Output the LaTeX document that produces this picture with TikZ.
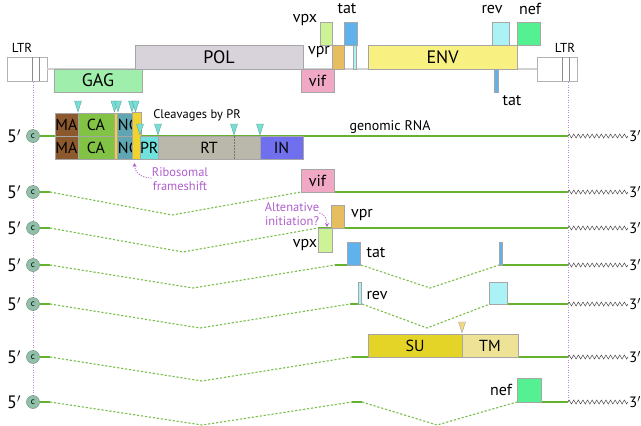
\documentclass[tikz,border=0pt]{standalone}
\usepackage{fontspec}
\setmainfont{PT Sans}
\usetikzlibrary{decorations.pathmorphing,arrows.meta}
\newcommand\fs[1]{\fontsize{#1}{#1}\selectfont}
\definecolor{gagc}{RGB}{160,238,172}
\definecolor{polc}{RGB}{216,210,218}
\definecolor{vifc}{RGB}{240,168,196}
\definecolor{vpxc}{RGB}{206,242,150}
\definecolor{vprc}{RGB}{230,190,95}
\definecolor{tatc}{RGB}{95,178,235}
\definecolor{revc}{RGB}{170,242,245}
\definecolor{envc}{RGB}{248,240,128}
\definecolor{nefc}{RGB}{85,240,145}
\definecolor{mac}{RGB}{140,88,45}
\definecolor{cac}{RGB}{130,195,70}
\definecolor{ncc}{RGB}{95,165,178}
\definecolor{p6c}{RGB}{240,212,45}
\definecolor{prc}{RGB}{112,226,222}
\definecolor{rtc}{RGB}{186,184,170}
\definecolor{inc}{RGB}{112,112,238}
\definecolor{suc}{RGB}{228,212,40}
\definecolor{tmc}{RGB}{238,226,150}
\definecolor{capc}{RGB}{145,192,168}
\definecolor{lineg}{RGB}{100,178,45}
\definecolor{purp}{RGB}{175,95,205}
\definecolor{tric}{RGB}{120,222,212}
\definecolor{vdotc}{RGB}{190,140,210}
\newcommand\gbx[7]{\node[gb,fill=#2,minimum width=#5pt,minimum height=#6pt] (#1) at (#3,#4) {#7};}
\newcommand\tridown[3]{\draw[#1] ({#2-3.5},{#3-11}) -- ({#2+3.5},{#3-11}) -- (#2,#3) -- cycle;}
\begin{document}
\begin{tikzpicture}[x=1pt,y=-1pt,
  gb/.style={draw=black!35,line width=0.5pt,inner sep=0pt,outer sep=0pt,anchor=north west,font=\fs{16}},
  lab/.style={inner sep=0pt,font=\fs{16}},
  small/.style={inner sep=0pt,font=\fs{12.5}},
  plab/.style={inner sep=0pt,font=\fs{12.5},text=purp,align=center},
  fp/.style={inner sep=0pt,font=\fs{18}},
  tp/.style={inner sep=1pt,font=\fs{15},anchor=west},
  capnode/.style={circle,fill=capc,draw=capc!70!black,line width=0.4pt,minimum size=13pt,inner sep=0pt,font=\fs{9}},
  solidg/.style={draw=lineg,line width=1.1pt},
  dashg/.style={draw=lineg!85,line width=1.1pt,dash pattern=on 2.2pt off 1.8pt},
  wavy/.style={draw=black!70,line width=0.5pt,decorate,decoration={zigzag,segment length=4.6pt,amplitude=2pt}},
  vdot/.style={draw=vdotc,line width=0.8pt,dash pattern=on 1pt off 1.5pt},
  tri/.style={fill=tric,draw=tric!70!black,line width=0.3pt},
  tri2/.style={fill=tmc!90!orange,draw=black!40,line width=0.3pt},
  parrow/.style={draw=purp,line width=0.8pt,dash pattern=on 1.2pt off 1.3pt,-{Stealth[length=4pt,width=4pt]},shorten >=1pt}]
\useasboundingbox (0,0) rectangle (641,426);

% ---------------- genome map ----------------
\node[gb,fill=white,draw=black!30,minimum width=40pt,minimum height=24pt] (ltrL) at (7,57) {};
\node[gb,fill=white,draw=black!30,minimum width=40pt,minimum height=24pt] (ltrR) at (537,57) {};
\draw[draw=black!18,line width=2pt] (ltrL.east) -- (ltrR.west);
\draw[black!45,line width=0.5pt] ([xshift=25pt]ltrL.north west) -- ([xshift=25pt]ltrL.south west);
\draw[black!45,line width=0.5pt] ([xshift=32pt]ltrL.north west) -- ([xshift=32pt]ltrL.south west);
\draw[black!45,line width=0.5pt] ([xshift=25pt]ltrR.north west) -- ([xshift=25pt]ltrR.south west);
\draw[black!45,line width=0.5pt] ([xshift=32pt]ltrR.north west) -- ([xshift=32pt]ltrR.south west);
\node[inner sep=0pt,font=\fs{13}] (ltrLl) at (22,48) {LTR};
\node[inner sep=0pt,font=\fs{13}] (ltrRl) at (565,48) {LTR};

\gbx{gag}{gagc}{54}{69}{88}{23}{\fs{18}GAG}
\gbx{pol}{polc}{135}{45}{168}{24}{\fs{18}POL}
\gbx{env}{envc}{368}{45}{149}{24}{\fs{18}ENV}
\gbx{vif}{vifc}{301}{69}{33}{23}{vif}
\gbx{vpxT}{vpxc}{320}{22}{12}{23}{}
\gbx{vprT}{vprc}{332}{45}{12}{24}{}
\gbx{tatT}{tatc}{344}{22}{13}{23}{}
\gbx{revTa}{revc}{353}{45}{3.5}{24}{}
\gbx{revT}{revc}{492}{22}{17}{23}{}
\gbx{nefT}{nefc}{517}{22}{23}{23}{}
\gbx{tatTb}{tatc}{494.5}{69}{3.5}{23}{}
\node[lab] (vpxl) at (305,20) {vpx};
\node[lab] (vprl) at (319,52) {vpr};
\node[lab] (tatl) at (347,9) {tat};
\node[lab] (revl) at (492,9) {rev};
\node[lab] (nefl) at (530,9) {nef};
\node[lab] (tatl2) at (512,101) {tat};

% ---------------- vertical dotted lines ----------------
\coordinate (vl1) at (33,82);
\coordinate (vl2) at (33,402);
\coordinate (vr1) at (568,82);
\coordinate (vr2) at (568,402);
\draw[vdot] (vl1) -- (vl2);
\draw[vdot] (vr1) -- (vr2);

% ---------------- row 1: genomic RNA ----------------
\node[capnode] (c1) at (33,136) {c};
\coordinate (e1) at (568,136);
\draw[solidg] (c1) -- (e1);
\node[tp] (z1) at (628,136) {3$'$};
\draw[wavy] (e1) -- (z1.west);
\node[fp] (f1) at (14,136) {5$'$};

\gbx{ma1}{mac}{55}{113}{23}{23}{MA}
\gbx{ma2}{mac}{55}{136}{23}{23}{MA}
\gbx{ca1}{cac}{78}{113}{36}{23}{CA}
\gbx{ca2}{cac}{78}{136}{36}{23}{CA}
\gbx{nc1}{ncc}{117}{113}{15}{23}{\hspace*{1pt}NC}
\gbx{nc2}{ncc}{117}{136}{15}{23}{\hspace*{1pt}NC}
\gbx{sp1}{p6c}{114}{113}{3}{46}{}
\gbx{p6}{p6c}{132}{112}{9}{47}{}
\gbx{pr}{prc}{140}{136}{18}{23}{PR}
\gbx{rt}{rtc}{158}{136}{102}{23}{RT}
\gbx{in}{inc}{260}{136}{43}{23}{IN}
\draw[black!55,line width=0.5pt,dash pattern=on 1.5pt off 1.5pt] ([xshift=76pt]rt.north west) -- ([xshift=76pt]rt.south west);

\tridown{tri}{78}{112}
\tridown{tri}{114.5}{112}
\tridown{tri}{118}{112}
\tridown{tri}{132}{112}
\tridown{tri}{135.5}{112}
\tridown{tri}{140}{135}
\tridown{tri}{158}{135}
\tridown{tri}{234}{135}
\tridown{tri}{260}{135}

\node[small] (cleav) at (197,115) {Cleavages by PR};
\node[inner sep=0pt,font=\fs{14}] (grna) at (390,127) {genomic RNA};
\node[plab] (ribo) at (180,179) {Ribosomal\\[2pt]frameshift};
\draw[parrow] ([yshift=1pt]ribo.west) .. controls +(-12,0) and +(0,9) .. ([xshift=-2pt,yshift=-3pt]p6.south);

% ---------------- row 2: vif ----------------
\node[capnode] (c2) at (33,192) {c};
\node[fp] (f2) at (14,192) {5$'$};
\coordinate (a2) at (50,192);
\coordinate (v2) at (172,215);
\coordinate (b2) at (301,192);
\coordinate (e2) at (568,192);
\draw[solidg] (c2) -- (a2);
\draw[dashg] (a2) -- (v2) -- (b2);
\draw[solidg] (b2) -- (e2);
\node[tp] (z2) at (628,192) {3$'$};
\draw[wavy] (e2) -- (z2.west);
\gbx{vif2}{vifc}{301}{169}{33}{23}{vif}

% ---------------- row 3: vpr / vpx ----------------
\node[capnode] (c3) at (33,228) {c};
\node[fp] (f3) at (14,228) {5$'$};
\coordinate (a3) at (50,228);
\coordinate (v3) at (183,252);
\coordinate (b3) at (318,228);
\coordinate (e3) at (568,228);
\draw[solidg] (c3) -- (a3);
\draw[dashg] (a3) -- (v3) -- (b3);
\draw[solidg] (b3) -- (e3);
\node[tp] (z3) at (628,228) {3$'$};
\draw[wavy] (e3) -- (z3.west);
\gbx{vpr2}{vprc}{331}{205}{13}{23}{}
\gbx{vpx2}{vpxc}{318}{228}{14}{24}{}
\node[lab] (vprl2) at (362,215) {vpr};
\node[lab] (vpxl2) at (305,245) {vpx};
\node[plab] (alt) at (292,214) {Altenative\\[2pt]initiation?};
\draw[parrow] ([yshift=1pt]alt.east) .. controls +(6,0) and +(0,-6) .. ([xshift=-5pt]vpx2.north east);

% ---------------- row 4: tat ----------------
\node[capnode] (c4) at (33,265) {c};
\node[fp] (f4) at (14,265) {5$'$};
\coordinate (a4) at (50,265);
\coordinate (v4) at (193,288);
\coordinate (b4) at (335,265);
\coordinate (d4) at (361,265);
\coordinate (w4) at (430,288);
\coordinate (g4) at (499,265);
\coordinate (e4) at (568,265);
\draw[solidg] (c4) -- (a4);
\draw[dashg] (a4) -- (v4) -- (b4);
\draw[solidg] (b4) -- (d4);
\draw[dashg] (d4) -- (w4) -- (g4);
\draw[solidg] (g4) -- (e4);
\node[tp] (z4) at (628,265) {3$'$};
\draw[wavy] (e4) -- (z4.west);
\gbx{tat4}{tatc}{347}{242}{13}{23}{}
\gbx{tat4b}{tatc}{499}{242}{3.5}{23}{}
\node[lab] (tatl4) at (376,253) {tat};

% ---------------- row 5: rev ----------------
\node[capnode] (c5) at (33,304) {c};
\node[fp] (f5) at (14,304) {5$'$};
\coordinate (a5) at (50,304);
\coordinate (v5) at (200,328);
\coordinate (b5) at (350,304);
\coordinate (d5) at (362,304);
\coordinate (w5) at (427,328);
\coordinate (g5) at (490,304);
\coordinate (e5) at (568,304);
\draw[solidg] (c5) -- (a5);
\draw[dashg] (a5) -- (v5) -- (b5);
\draw[solidg] (b5) -- (d5);
\draw[dashg] (d5) -- (w5) -- (g5);
\draw[solidg] (g5) -- (e5);
\node[tp] (z5) at (628,304) {3$'$};
\draw[wavy] (e5) -- (z5.west);
\gbx{rev5}{revc}{358}{282}{3.5}{22}{}
\gbx{rev5b}{revc}{489}{282}{18}{22}{}
\node[lab] (revl5) at (377,295) {rev};

% ---------------- row 6: env ----------------
\node[capnode] (c6) at (33,357) {c};
\node[fp] (f6) at (14,357) {5$'$};
\coordinate (a6) at (50,357);
\coordinate (v6) at (202,381);
\coordinate (b6) at (352,357);
\coordinate (e6) at (568,357);
\draw[solidg] (c6) -- (a6);
\draw[dashg] (a6) -- (v6) -- (b6);
\draw[solidg] (b6) -- (e6);
\node[tp] (z6) at (628,357) {3$'$};
\draw[wavy] (e6) -- (z6.west);
\gbx{su}{suc}{368}{334}{94}{23}{SU}
\gbx{tm}{tmc}{462}{334}{56}{23}{TM}
\tridown{tri2}{462}{333}

% ---------------- row 7: nef ----------------
\node[capnode] (c7) at (33,402) {c};
\node[fp] (f7) at (14,402) {5$'$};
\coordinate (a7) at (50,402);
\coordinate (v7) at (202,425);
\coordinate (b7) at (352,402);
\coordinate (d7) at (362,402);
\coordinate (w7) at (437,425);
\coordinate (g7) at (517,402);
\coordinate (e7) at (568,402);
\draw[solidg] (c7) -- (a7);
\draw[dashg] (a7) -- (v7) -- (b7);
\draw[solidg] (b7) -- (d7);
\draw[dashg] (d7) -- (w7) -- (g7);
\draw[solidg] (g7) -- (e7);
\node[tp] (z7) at (628,402) {3$'$};
\draw[wavy] (e7) -- (z7.west);
\gbx{nef7}{nefc}{517}{378}{24}{24}{}
\node[lab] (nefl7) at (501,390) {nef};
\end{tikzpicture}
\end{document}
